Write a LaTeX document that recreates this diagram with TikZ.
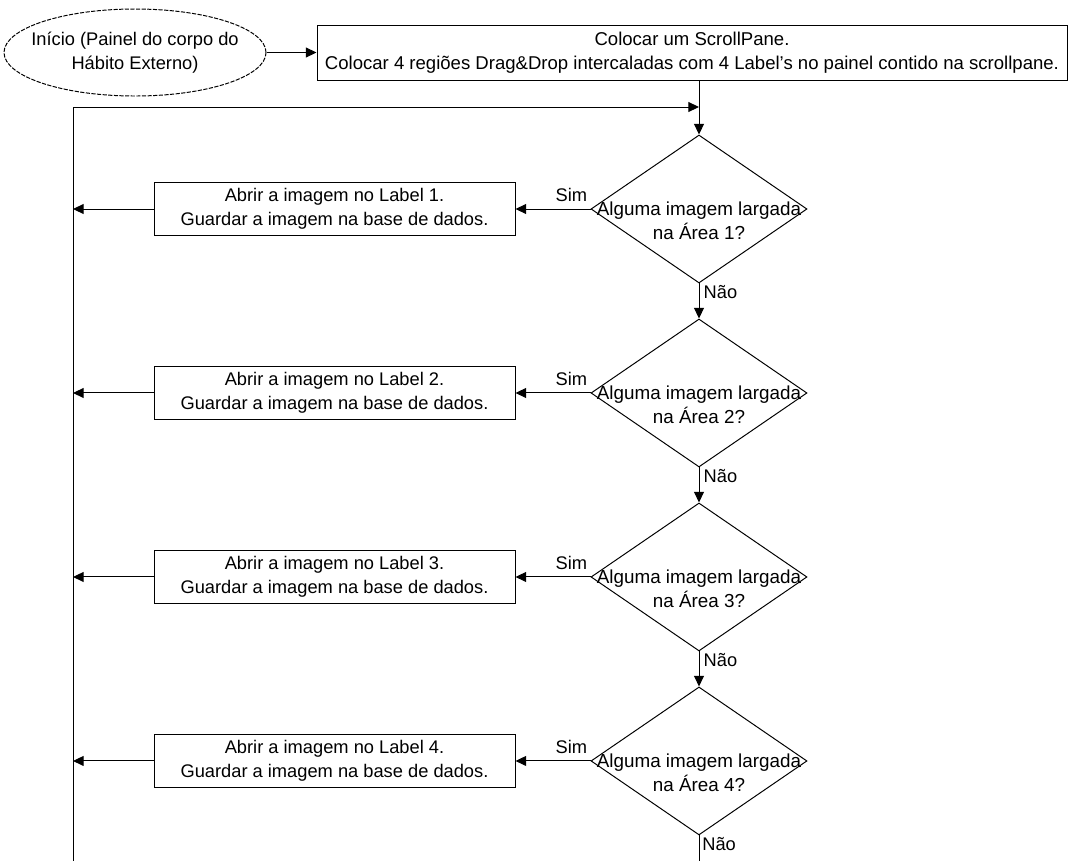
\documentclass[tikz,border=0pt]{standalone}
\usepackage{fontspec}
\setmainfont{Liberation Sans}
\usepackage{tikz}
\usetikzlibrary{positioning,arrows.meta,shapes.geometric}
\tikzset{
  startnode/.style={ellipse,draw,dash pattern=on 3pt off 1pt,align=center,minimum width=6.55cm,minimum height=2.175cm,inner xsep=-0.4cm,inner ysep=0pt,font=\fontsize{13}{17}\selectfont},
  widebox/.style={rectangle,draw,align=center,minimum width=18.75cm,minimum height=1.375cm,inner sep=0pt,font=\fontsize{13.2}{17}\selectfont},
  box/.style={rectangle,draw,align=center,minimum width=9.025cm,minimum height=1.325cm,inner sep=0pt,font=\fontsize{13}{17}\selectfont},
  decision/.style={diamond,draw,minimum width=5.4cm,minimum height=3.7cm,inner sep=0pt},
  qtext/.style={align=center,inner sep=0pt,font=\fontsize{13.4}{17}\selectfont},
  lbl/.style={inner sep=1pt,font=\fontsize{13}{15}\selectfont},
  arrow/.style={-{Triangle[length=7.5pt,width=7pt]}}
}

\begin{document}
\begin{tikzpicture}[line width=0.7pt]
			\useasboundingbox (0,0) rectangle (26.775,-21.525);
			
			\node[widebox] (setup) at (17.3,-1.3125) {Colocar um ScrollPane.\\Colocar 4 regiões Drag\&Drop intercaladas com 4 Label's no painel contido na scrollpane.};
			\node[startnode, left=1.25cm of setup] (start) {Início (Painel do corpo do\\Hábito Externo)};
			
			\node[decision] (q1) at (17.475,-5.225) {};
			\node[decision, below=0.875cm of q1] (q2) {};
			\node[decision, below=0.875cm of q2] (q3) {};
			\node[decision, below=0.875cm of q3] (q4) {};
			\node[qtext, yshift=-0.3cm] (q1t) at (q1) {Alguma imagem largada\\na Área 1?};
			\node[qtext, yshift=-0.3cm] (q2t) at (q2) {Alguma imagem largada\\na Área 2?};
			\node[qtext, yshift=-0.3cm] (q3t) at (q3) {Alguma imagem largada\\na Área 3?};
			\node[qtext, yshift=-0.3cm] (q4t) at (q4) {Alguma imagem largada\\na Área 4?};
			
			\node[box, left=1.875cm of q1] (a1) {Abrir a imagem no Label 1.\\Guardar a imagem na base de dados.};
			\node[box, left=1.875cm of q2] (a2) {Abrir a imagem no Label 2.\\Guardar a imagem na base de dados.};
			\node[box, left=1.875cm of q3] (a3) {Abrir a imagem no Label 3.\\Guardar a imagem na base de dados.};
			\node[box, left=1.875cm of q4] (a4) {Abrir a imagem no Label 4.\\Guardar a imagem na base de dados.};
			
			\coordinate (join) at (17.475,-2.675);
			\coordinate (loopbot) at (1.825,-21.525);
			\coordinate (q4end) at (17.475,-21.525);
			
			\draw[arrow] (start.east) -- (start.east -| setup.west);
			\draw (setup.south -| q1) -- (join);
			\draw[arrow] (join) -- (q1.north);
			\draw[arrow] (loopbot) |- (join);
			
			\draw[arrow] (q1.south) -- (q2.north);
			\draw[arrow] (q2.south) -- (q3.north);
			\draw[arrow] (q3.south) -- (q4.north);
			\draw (q4.south) -- (q4end);
			
			\draw[arrow] (q1.west) -- (a1.east);
			\draw[arrow] (q2.west) -- (a2.east);
			\draw[arrow] (q3.west) -- (a3.east);
			\draw[arrow] (q4.west) -- (a4.east);
			\draw[arrow] (a1.west) -- (a1.west -| loopbot);
			\draw[arrow] (a2.west) -- (a2.west -| loopbot);
			\draw[arrow] (a3.west) -- (a3.west -| loopbot);
			\draw[arrow] (a4.west) -- (a4.west -| loopbot);
			
			\node[lbl, anchor=south east] (s1) at ([xshift=-1pt,yshift=4pt]q1.west) {Sim};
			\node[lbl, anchor=south east] (s2) at ([xshift=-1pt,yshift=4pt]q2.west) {Sim};
			\node[lbl, anchor=south east] (s3) at ([xshift=-1pt,yshift=4pt]q3.west) {Sim};
			\node[lbl, anchor=south east] (s4) at ([xshift=-1pt,yshift=4pt]q4.west) {Sim};
			\node[lbl, anchor=north west] (n1) at ([xshift=2pt]q1.south) {Não};
			\node[lbl, anchor=north west] (n2) at ([xshift=2pt]q2.south) {Não};
			\node[lbl, anchor=north west] (n3) at ([xshift=2pt]q3.south) {Não};
			\node[lbl, anchor=north west] (n4) at ([xshift=1pt]q4.south) {Não};
			
		\end{tikzpicture}
\end{document}
